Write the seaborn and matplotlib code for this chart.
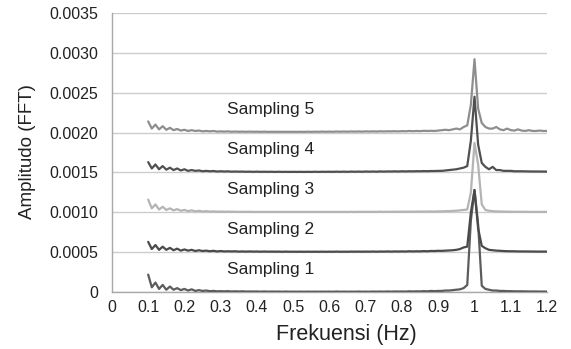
import numpy as np
import pandas as pd
import matplotlib
matplotlib.use("Agg")
import matplotlib.pyplot as plt
import seaborn as sns
from matplotlib.ticker import FuncFormatter, MultipleLocator

# Frequency axis (Hz): 0.10 .. 1.20, step 0.01
freq = np.round(np.arange(0.10, 1.2001, 0.01), 2)

# Amplitudes, in units of 1e-4 (above each series' own baseline)
s1 = [2.2, 0.6, 1.2, 0.4, 0.9, 0.3, 0.7, 0.3, 0.5, 0.25,
      0.4, 0.2, 0.35, 0.15, 0.25, 0.15, 0.2, 0.12, 0.15, 0.1,
      0.12, 0.1, 0.12, 0.08, 0.1, 0.08, 0.1, 0.07, 0.08, 0.07,
      0.08, 0.06, 0.08, 0.06, 0.07, 0.06, 0.07, 0.05, 0.07, 0.05,
      0.06, 0.05, 0.06, 0.05, 0.06, 0.05, 0.06, 0.05, 0.06, 0.05,
      0.06, 0.05, 0.07, 0.05, 0.06, 0.05, 0.06, 0.05, 0.07, 0.05,
      0.06, 0.05, 0.07, 0.06, 0.07, 0.06, 0.08, 0.06, 0.08, 0.07,
      0.08, 0.07, 0.1, 0.08, 0.1, 0.09, 0.12, 0.1, 0.15, 0.12,
      0.15, 0.15, 0.2, 0.2, 0.25, 0.3, 0.35, 0.5, 0.9, 9.0,
      12.8, 8.5, 0.8, 0.4, 0.3, 0.2, 0.2, 0.15, 0.15, 0.12,
      0.12, 0.1, 0.1, 0.1, 0.09, 0.08, 0.08, 0.08, 0.07, 0.07,
      0.07]
s2 = [1.3, 0.4, 0.9, 0.3, 0.7, 0.3, 0.55, 0.25, 0.45, 0.2,
      0.35, 0.2, 0.3, 0.15, 0.25, 0.15, 0.2, 0.12, 0.18, 0.1,
      0.15, 0.1, 0.12, 0.1, 0.12, 0.08, 0.1, 0.08, 0.1, 0.08,
      0.09, 0.07, 0.09, 0.07, 0.08, 0.07, 0.08, 0.06, 0.08, 0.06,
      0.07, 0.06, 0.07, 0.06, 0.07, 0.06, 0.07, 0.06, 0.07, 0.06,
      0.07, 0.06, 0.08, 0.06, 0.07, 0.06, 0.08, 0.07, 0.08, 0.07,
      0.08, 0.07, 0.09, 0.07, 0.09, 0.08, 0.1, 0.08, 0.1, 0.09,
      0.1, 0.09, 0.12, 0.1, 0.12, 0.11, 0.14, 0.12, 0.16, 0.15,
      0.18, 0.17, 0.2, 0.22, 0.25, 0.3, 0.4, 0.6, 0.7, 5.0,
      7.8, 3.0, 0.8, 0.5, 0.3, 0.25, 0.2, 0.18, 0.15, 0.13,
      0.12, 0.12, 0.1, 0.1, 0.1, 0.09, 0.09, 0.08, 0.08, 0.08,
      0.08]
s3 = [1.6, 0.5, 1.0, 0.35, 0.7, 0.3, 0.5, 0.25, 0.4, 0.2,
      0.3, 0.15, 0.25, 0.12, 0.2, 0.1, 0.15, 0.1, 0.12, 0.08,
      0.1, 0.08, 0.09, 0.07, 0.08, 0.06, 0.07, 0.06, 0.07, 0.05,
      0.06, 0.05, 0.06, 0.05, 0.06, 0.05, 0.06, 0.05, 0.06, 0.05,
      0.06, 0.05, 0.06, 0.05, 0.06, 0.05, 0.06, 0.05, 0.06, 0.05,
      0.06, 0.05, 0.06, 0.05, 0.06, 0.05, 0.07, 0.05, 0.07, 0.06,
      0.07, 0.06, 0.07, 0.06, 0.08, 0.06, 0.08, 0.07, 0.08, 0.07,
      0.09, 0.08, 0.09, 0.08, 0.1, 0.09, 0.1, 0.1, 0.11, 0.1,
      0.12, 0.12, 0.15, 0.15, 0.18, 0.2, 0.25, 0.3, 0.35, 2.5,
      8.7, 6.0, 1.0, 0.3, 0.2, 0.15, 0.12, 0.1, 0.1, 0.08,
      0.08, 0.07, 0.07, 0.07, 0.07, 0.06, 0.06, 0.06, 0.06, 0.06,
      0.06]
s4 = [1.3, 0.5, 1.0, 0.4, 0.8, 0.35, 0.6, 0.3, 0.5, 0.25,
      0.4, 0.2, 0.3, 0.2, 0.25, 0.15, 0.2, 0.15, 0.18, 0.12,
      0.15, 0.12, 0.14, 0.1, 0.12, 0.1, 0.11, 0.09, 0.1, 0.08,
      0.1, 0.08, 0.09, 0.08, 0.09, 0.07, 0.09, 0.07, 0.08, 0.07,
      0.08, 0.07, 0.08, 0.07, 0.08, 0.07, 0.09, 0.07, 0.09, 0.08,
      0.09, 0.08, 0.1, 0.08, 0.1, 0.08, 0.11, 0.09, 0.11, 0.09,
      0.12, 0.1, 0.12, 0.1, 0.13, 0.11, 0.13, 0.12, 0.14, 0.12,
      0.15, 0.13, 0.15, 0.14, 0.16, 0.15, 0.17, 0.16, 0.18, 0.18,
      0.2, 0.2, 0.25, 0.3, 0.35, 0.4, 0.5, 0.6, 0.8, 4.0,
      9.5, 3.5, 1.2, 0.7, 0.4, 0.7, 0.3, 0.3, 0.2, 0.2,
      0.2, 0.15, 0.15, 0.15, 0.14, 0.13, 0.12, 0.12, 0.12, 0.11,
      0.11]
s5 = [1.4, 0.5, 1.0, 0.4, 0.8, 0.35, 0.6, 0.3, 0.45, 0.25,
      0.35, 0.2, 0.3, 0.2, 0.25, 0.15, 0.2, 0.15, 0.2, 0.12,
      0.15, 0.12, 0.15, 0.1, 0.13, 0.1, 0.12, 0.1, 0.12, 0.1,
      0.11, 0.09, 0.11, 0.09, 0.1, 0.09, 0.1, 0.09, 0.1, 0.09,
      0.1, 0.09, 0.1, 0.09, 0.11, 0.09, 0.11, 0.1, 0.12, 0.1,
      0.12, 0.1, 0.13, 0.11, 0.13, 0.11, 0.14, 0.12, 0.14, 0.12,
      0.15, 0.13, 0.15, 0.13, 0.16, 0.14, 0.16, 0.15, 0.17, 0.15,
      0.18, 0.16, 0.2, 0.17, 0.2, 0.18, 0.22, 0.2, 0.22, 0.2,
      0.25, 0.3, 0.35, 0.3, 0.4, 0.5, 0.4, 0.7, 0.9, 3.5,
      9.2, 3.0, 1.2, 0.7, 0.5, 0.5, 0.7, 0.4, 0.3, 0.5,
      0.3, 0.25, 0.4, 0.25, 0.2, 0.3, 0.2, 0.2, 0.25, 0.2,
      0.2]

series_names = ["Sampling 1", "Sampling 2", "Sampling 3", "Sampling 4", "Sampling 5"]
series_values = [s1, s2, s3, s4, s5]
offsets = [0.0, 0.0005, 0.0010, 0.0015, 0.0020]   # vertical stacking of each spectrum
label_x = 0.437
label_dy = 0.00023
colors = ["#5c5c5c", "#4a4a4a", "#b4b4b4", "#505050", "#8e8e8e"]

x_ticks = [0, 0.1, 0.2, 0.3, 0.4, 0.5, 0.6, 0.7, 0.8, 0.9, 1.0, 1.1, 1.2]
x_ticklabels = ["0", "0.1", "0.2", "0.3", "0.4", "0.5", "0.6", "0.7", "0.8", "0.9", "1", "1.1", "1.2"]

rows = []
for name, vals, off in zip(series_names, series_values, offsets):
    for f, v in zip(freq, vals):
        rows.append({"Frekuensi": f, "Amplitudo": off + v * 1e-4, "Sampling": name})
df = pd.DataFrame(rows)

sns.set_theme(style="white")
plt.rcParams["font.family"] = ["Liberation Sans", "DejaVu Sans"]

fig = plt.figure(figsize=(5.71, 3.49), dpi=100)
ax = fig.add_axes([0.196, 0.163, 0.762, 0.800])

sns.lineplot(data=df, x="Frekuensi", y="Amplitudo", hue="Sampling",
             palette=dict(zip(series_names, colors)), linewidth=1.6,
             legend=False, ax=ax, zorder=3)

for name, off in zip(series_names, offsets):
    ax.text(label_x, off + label_dy, name, ha="center", va="baseline",
            fontsize=12.5, color="#222222")

ax.set_xlim(0, 1.2)
ax.set_ylim(0, 0.0035)
ax.set_xticks(x_ticks)
ax.set_xticklabels(x_ticklabels)
ax.yaxis.set_major_locator(MultipleLocator(0.0005))
ax.yaxis.set_major_formatter(FuncFormatter(lambda v, p: "0" if abs(v) < 1e-12 else f"{v:.4f}"))
ax.grid(axis="y", color="#cccccc", linewidth=1.0, zorder=0)
ax.set_axisbelow(True)

for s in ["top", "right"]:
    ax.spines[s].set_visible(False)
for s in ["left", "bottom"]:
    ax.spines[s].set_color("#a8a8a8")
    ax.spines[s].set_linewidth(1.0)

ax.tick_params(axis="x", labelsize=11.5, colors="#222222", length=0, pad=6)
ax.tick_params(axis="y", labelsize=11.5, colors="#222222", length=0, pad=10)
ax.set_xlabel("Frekuensi (Hz)", fontsize=15.5, color="#222222")
ax.set_ylabel("Amplitudo (FFT)", fontsize=13.5, color="#222222")
ax.xaxis.set_label_coords(0.54, -0.115)
ax.yaxis.set_label_coords(-0.175, 0.505)

fig.savefig("out.png", dpi=100)
